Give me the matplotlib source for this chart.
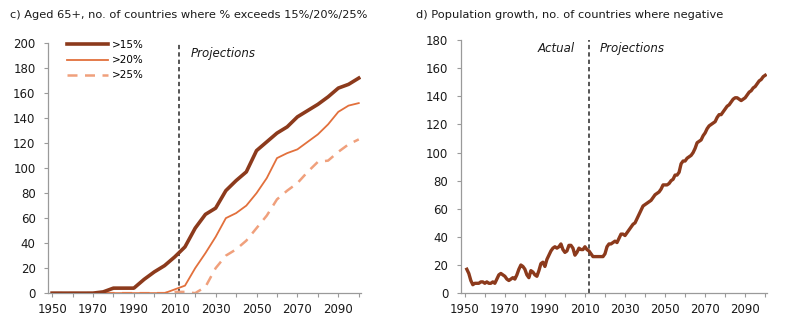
import matplotlib

matplotlib.use("Agg")
import matplotlib.pyplot as plt
from matplotlib.ticker import MultipleLocator

# ---- data ----
YEARS_5 = list(range(1950, 2101, 5))

AGED_15 = [0, 0, 0, 0, 0, 1, 4, 4, 4, 11, 17, 22, 29, 37, 52, 63, 68, 82, 90, 97,
           114, 121, 128, 133, 141, 146, 151, 157, 164, 167, 172]
AGED_20 = [0, 0, 0, 0, 0, 0, 0, 0, 0, 0, 0, 0, 3, 6, 20, 32, 45, 60, 64, 70,
           80, 92, 108, 112, 115, 121, 127, 135, 145, 150, 152]
AGED_25 = [0, 0, 0, 0, 0, 0, 0, 0, 0, 0, 0, 0, 1, 1, 0, 5, 20, 30, 35, 42,
           52, 62, 75, 82, 88, 97, 105, 106, 113, 119, 123]

YEARS_1 = list(range(1951, 2101))
NEG_GROWTH = [
    17, 14, 9, 6, 7, 7, 7, 8, 8, 7,            # 1951-1960
    8, 7, 7, 8, 7, 10, 13, 14, 13, 12,         # 1961-1970
    10, 9, 10, 11, 10, 13, 17, 20, 19, 17,     # 1971-1980
    13, 11, 16, 15, 13, 12, 16, 21, 22, 19,    # 1981-1990
    24, 27, 30, 32, 33, 32, 33, 35, 31, 29,    # 1991-2000
    30, 34, 34, 32, 27, 29, 32, 31, 31, 33,    # 2001-2010
    31, 30, 28, 26, 26, 26, 26, 26, 26, 28,    # 2011-2020
    33, 35, 35, 36, 37, 36, 39, 42, 42, 41,    # 2021-2030
    43, 45, 47, 49, 50, 53, 56, 59, 62, 63,    # 2031-2040
    64, 65, 66, 68, 70, 71, 72, 74, 77, 77,    # 2041-2050
    77, 78, 80, 81, 84, 84, 86, 92, 94, 94,    # 2051-2060
    96, 97, 98, 100, 103, 107, 108, 109, 112, 114,  # 2061-2070
    117, 119, 120, 121, 122, 125, 127, 127, 129, 131,  # 2071-2080
    133, 134, 136, 138, 139, 139, 138, 137, 138, 139,  # 2081-2090
    141, 143, 144, 146, 147, 149, 151, 152, 154, 155,  # 2091-2100
]

SPLIT_YEAR = 2012

DARK = "#8c3a1c"
MID = "#e2703c"
LIGHT = "#f0a07c"
SPINE = "#9a9a9a"
TEXT = "#1a1a1a"


def style_axis(ax, ymax, ystep):
    for side in ("top", "right"):
        ax.spines[side].set_visible(False)
    for side in ("left", "bottom"):
        ax.spines[side].set_color(SPINE)
        ax.spines[side].set_linewidth(0.9)
    ax.set_xlim(1948, 2101)
    ax.set_ylim(0, ymax)
    ax.yaxis.set_major_locator(MultipleLocator(ystep))
    ax.xaxis.set_major_locator(MultipleLocator(20, offset=10))
    ax.xaxis.set_minor_locator(MultipleLocator(10))
    ax.tick_params(axis="both", which="both", colors=SPINE, labelcolor=TEXT,
                   labelsize=8.5, length=3, width=0.8)
    ax.tick_params(axis="x", which="major", length=3, pad=4)
    ax.tick_params(axis="y", pad=6)
    ax.axvline(SPLIT_YEAR, color="#555555", lw=1.4, ls=(0, (2.2, 1.6)), zorder=1)


plt.rcParams.update({"font.family": "DejaVu Sans"})

fig = plt.figure(figsize=(8.0, 3.29), dpi=100)
ax_l = fig.add_axes([0.06, 0.109, 0.391, 0.76])
ax_r = fig.add_axes([0.576, 0.109, 0.383, 0.769])

# ---- panel c ----
style_axis(ax_l, 200, 20)
ax_l.plot(YEARS_5, AGED_25, color=LIGHT, lw=1.8, ls=(0, (4, 3)), label=">25%", zorder=2)
ax_l.plot(YEARS_5, AGED_20, color=MID, lw=1.3, label=">20%", zorder=3)
ax_l.plot(YEARS_5, AGED_15, color=DARK, lw=2.6, label=">15%", zorder=4)
handles, labels = ax_l.get_legend_handles_labels()
ax_l.legend(handles[::-1], labels[::-1], loc="upper left", bbox_to_anchor=(0.03, 1.05),
            frameon=False, fontsize=7.5, handlelength=4.0, handletextpad=0.3,
            labelspacing=0.5)
ax_l.text(2018, 192, "Projections", fontsize=8.5, style="italic", color=TEXT,
          va="center", ha="left")
fig.text(0.012, 0.953, "c) Aged 65+, no. of countries where % exceeds 15%/20%/25%",
         fontsize=8.2, color=TEXT, va="center", ha="left")

# ---- panel d ----
style_axis(ax_r, 180, 20)
ax_r.plot(YEARS_1, NEG_GROWTH, color=DARK, lw=2.4, zorder=3)
ax_r.text(2005, 174, "Actual", fontsize=8.5, style="italic", color=TEXT,
          va="center", ha="right")
ax_r.text(2017.5, 174, "Projections", fontsize=8.5, style="italic", color=TEXT,
          va="center", ha="left")
fig.text(0.52, 0.953, "d) Population growth, no. of countries where negative",
         fontsize=8.2, color=TEXT, va="center", ha="left")

fig.savefig("out.png", dpi=100)
